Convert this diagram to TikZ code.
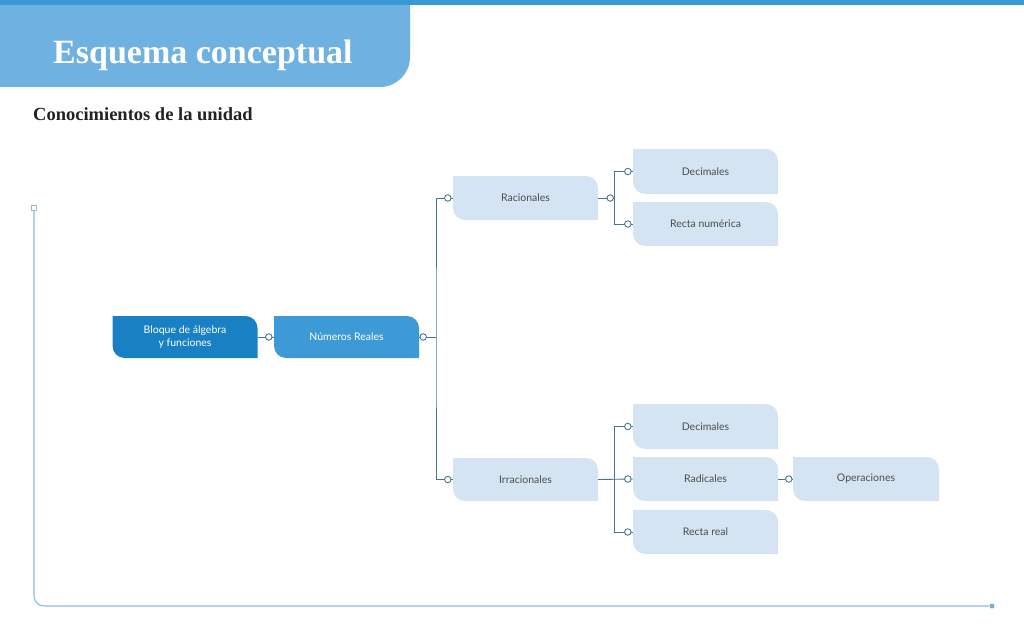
\documentclass[tikz,border=0pt]{standalone}
\usepackage{fontspec}
\setmainfont{Liberation Serif}
\newfontfamily\nodefont{Lato}
\usetikzlibrary{calc}
\definecolor{topbar}{HTML}{3A98D5}
\definecolor{banner}{HTML}{6FB1E0}
\definecolor{darkbox}{HTML}{1A80C4}
\definecolor{midbox}{HTML}{3D9AD7}
\definecolor{lightbox}{HTML}{D5E4F2}
\definecolor{conn}{HTML}{45778E}
\definecolor{framec}{HTML}{8DBAD8}
\definecolor{nodetext}{HTML}{4D4D4D}
\definecolor{titletext}{HTML}{222222}
\tikzset{
  blob/.style={rectangle, inner sep=0pt, minimum width=145pt, minimum height=44pt,
    font=\nodefont\fontsize{10.5}{13}\selectfont, text=nodetext, align=center,
    path picture={
      \fill[#1] (path picture bounding box.north west)
        -- ([xshift=-12pt]path picture bounding box.north east)
        .. controls ([xshift=-5.4pt]path picture bounding box.north east) and ([yshift=-5.4pt]path picture bounding box.north east)
        .. ([yshift=-12pt]path picture bounding box.north east)
        -- (path picture bounding box.south east)
        -- ([xshift=12pt]path picture bounding box.south west)
        .. controls ([xshift=5.4pt]path picture bounding box.south west) and ([yshift=5.4pt]path picture bounding box.south west)
        .. ([yshift=12pt]path picture bounding box.south west)
        -- cycle;}},
  conn/.style={draw=conn, line width=0.9pt},
  circ/.style={circle, draw=conn, fill=white, line width=0.9pt, inner sep=0pt, minimum size=6.5pt},
  framel/.style={draw=framec, line width=1.1pt},
}
\begin{document}
\begin{tikzpicture}[x=1pt, y=-1pt]
\useasboundingbox (0,0) rectangle (1024,639);
% header
\fill[banner] (0,0) -- (410,0) -- (410,57) .. controls (410,73.6) and (396.6,87) .. (380,87) -- (0,87) -- cycle;
\fill[topbar] (0,0) rectangle (1024,5);
\node[anchor=base west, inner sep=0pt, text=white, font=\bfseries\fontsize{34}{40}\selectfont] (title) at (53,64) {Esquema conceptual};
\node[anchor=base west, inner sep=0pt, text=titletext, font=\bfseries\fontsize{18.5}{22}\selectfont] (sub) at (33,121) {Conocimientos de la unidad};

% frame
\node[rectangle, draw=framec, fill=white, line width=0.8pt, minimum size=5pt, inner sep=0pt] (fstart) at (34,208) {};
\node[circle, fill=framec!80!conn, minimum size=5pt, inner sep=0pt] (fend) at (992,606) {};
\draw[framel, rounded corners=10pt] (fstart.south) |- (fend.west);

% nodes
\node[blob=darkbox, minimum height=42pt, text=white] (bloque) at (185,337) {Bloque de álgebra\\y funciones};
\node[blob=midbox, minimum height=42pt, text=white] (numeros) at (346.5,337) {Números Reales};
\node[blob=lightbox] (racionales) at (525.5,198) {Racionales};
\node[blob=lightbox, minimum height=45pt] (dec1) at (705.5,171.5) {Decimales};
\node[blob=lightbox] (recta1) at (705.5,224) {Recta numérica};
\node[blob=lightbox, minimum height=45pt] (dec2) at (705.5,426.5) {Decimales};
\node[blob=lightbox, minimum height=43pt] (irr) at (525.5,479.5) {Irracionales};
\node[blob=lightbox] (rad) at (705.5,479) {Radicales};
\node[blob=lightbox, minimum width=146pt] (oper) at (866,479) {Operaciones};
\node[blob=lightbox] (recta2) at (705.5,532) {Recta real};

% connectors
\coordinate (j1) at (436,337);
\coordinate (j2) at (614,198);
\coordinate (j3) at (614,480);
\draw[conn] (bloque.east) -- (numeros.west);
\node[circ] at ([xshift=-5pt]numeros.west) {};
\draw[conn] (numeros.east) -- (j1);
\node[circ] at ([xshift=4pt]numeros.east) {};
\draw[conn] (racionales.west) -| (j1) |- (irr.west);
\node[circ] at ([xshift=-5pt]racionales.west) {};
\node[circ] at ([xshift=-5pt]irr.west) {};
\draw[conn] (racionales.east) -- (j2);
\node[circ] at ([xshift=12pt]racionales.east) {};
\draw[conn] (dec1.west) -| (j2) |- (recta1.west);
\node[circ] at ([xshift=-5pt]dec1.west) {};
\node[circ] at ([xshift=-5pt]recta1.west) {};
\draw[conn] (irr.east) -- (rad.west);
\draw[conn] (dec2.west) -| (j3) |- (recta2.west);
\node[circ] at ([xshift=-5pt]dec2.west) {};
\node[circ] at ([xshift=-5pt]rad.west) {};
\node[circ] at ([xshift=-5pt]recta2.west) {};
\draw[conn] (rad.east) -- (oper.west);
\node[circ] at ([xshift=-4pt]oper.west) {};
\end{tikzpicture}
\end{document}
